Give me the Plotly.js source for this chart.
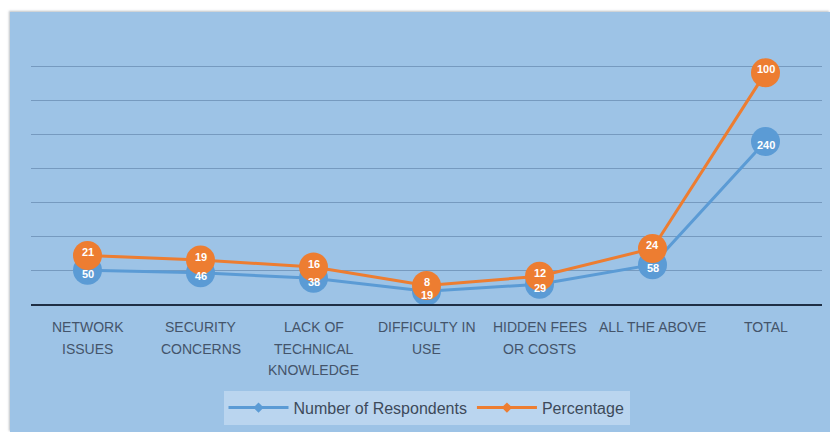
<!DOCTYPE html>
<html>
<head>
<meta charset="utf-8">
<script src="https://cdn.plot.ly/plotly-3.0.1.min.js"></script>
<style>
  html, body { margin: 0; padding: 0; background: #ffffff; width: 830px; height: 432px; overflow: hidden; }
  #chart { position: absolute; left: 10px; top: 12px; width: 820px; height: 420px;
           box-shadow: -1px -1px 2px rgba(120,130,140,0.5); }
</style>
</head>
<body>
<div id="chart"></div>
<script>
const categories = [
  "NETWORK ISSUES",
  "SECURITY CONCERNS",
  "LACK OF TECHNICAL KNOWLEDGE",
  "DIFFICULTY IN USE",
  "HIDDEN FEES OR COSTS",
  "ALL THE ABOVE",
  "TOTAL"
];
const categoryLines = [
  ["NETWORK", "ISSUES"],
  ["SECURITY", "CONCERNS"],
  ["LACK OF", "TECHNICAL", "KNOWLEDGE"],
  ["DIFFICULTY IN", "USE"],
  ["HIDDEN FEES", "OR COSTS"],
  ["ALL THE ABOVE"],
  ["TOTAL"]
];
const respondents = [50, 46, 38, 19, 29, 58, 240];
const percentage = [21, 19, 16, 8, 12, 24, 100];
const seriesNames = ["Number of Respondents", "Percentage"];

const blue = "#5b9bd5";
const orange = "#ed7d31";
const labelFont = { color: "#ffffff", size: 11, family: "Liberation Sans", weight: "bold" };

const traces = [
  { x: categories, y: respondents, name: seriesNames[0], type: "scatter", mode: "lines+markers",
    line: { color: blue, width: 3 }, marker: { color: blue, size: 29 },
    showlegend: false, yaxis: "y" },
  { x: categories, y: percentage, name: seriesNames[1], type: "scatter", mode: "lines+markers",
    line: { color: orange, width: 3 }, marker: { color: orange, size: 29 },
    showlegend: false, yaxis: "y2" },
  // legend entries (no data)
  { x: [null], y: [null], name: seriesNames[0], type: "scatter", mode: "lines+markers",
    line: { color: blue, width: 3 }, marker: { color: blue, size: 8, symbol: "diamond" } },
  { x: [null], y: [null], name: seriesNames[1], type: "scatter", mode: "lines+markers",
    line: { color: orange, width: 3 }, marker: { color: orange, size: 8, symbol: "diamond" } }
];

const annotations = [];
// data labels (drawn above all markers)
respondents.forEach((v, i) => {
  annotations.push({ x: categories[i], xref: "x", y: v, yref: "y", text: String(v),
    showarrow: false, xanchor: "center", yanchor: "middle", yshift: -3.5, font: labelFont });
});
percentage.forEach((v, i) => {
  annotations.push({ x: categories[i], xref: "x", y: v, yref: "y2", text: String(v),
    showarrow: false, xanchor: "center", yanchor: "middle", yshift: 3.5, font: labelFont });
});
// category labels
categoryLines.forEach((lines, ci) => {
  lines.forEach((ln, li) => {
    annotations.push({
      x: categories[ci], xref: "x", y: 0, yref: "paper",
      yanchor: "middle", xanchor: "center",
      yshift: -(23 + li * 21.5),
      text: ln, showarrow: false,
      font: { family: "Liberation Sans", size: 14, color: "#44546a" }
    });
  });
});

const layout = {
  width: 820, height: 420,
  paper_bgcolor: "#9dc3e6",
  plot_bgcolor: "#9dc3e6",
  margin: { l: 21, r: 8, t: 21, b: 127 },
  showlegend: true,
  legend: {
    orientation: "h", x: 0.5, xanchor: "center", y: -0.315, yanchor: "top",
    bgcolor: "rgba(210,228,245,0.55)",
    font: { family: "Liberation Sans", size: 16, color: "#3d4a5a" },
    itemwidth: 60
  },
  annotations: annotations,
  xaxis: {
    type: "category", range: [-0.5, 6.5],
    showgrid: false, zeroline: false,
    showline: true, linecolor: "#1f2f45", linewidth: 2,
    ticks: "", showticklabels: false, fixedrange: true
  },
  yaxis: {
    range: [0, 400], dtick: 50,
    showgrid: true, gridcolor: "rgba(70,105,145,0.45)", gridwidth: 1,
    zeroline: false, showticklabels: false, ticks: "", fixedrange: true
  },
  yaxis2: {
    range: [0, 117.2], overlaying: "y", side: "right",
    showgrid: false, zeroline: false, showticklabels: false, ticks: "", fixedrange: true
  }
};

Plotly.newPlot("chart", traces, layout, { displayModeBar: false, staticPlot: true });
</script>
</body>
</html>
